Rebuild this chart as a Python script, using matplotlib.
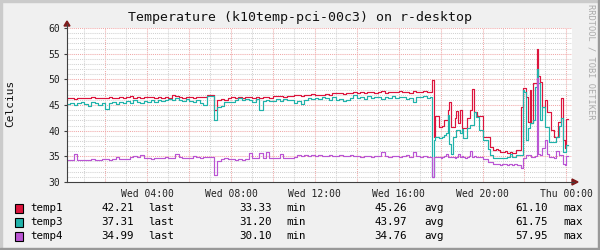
import matplotlib
matplotlib.use("Agg")
import matplotlib.pyplot as plt
import numpy as np
from matplotlib.lines import Line2D
from matplotlib.patches import Rectangle, Polygon

# ---------------- data ----------------
# 10-minute samples from Wed 00:00 to 17:30 (hours)
temp1_day = [
    46.0, 46.3, 46.3, 46.2, 46.4, 46.3,
    46.4, 46.3, 46.5, 46.3, 46.4, 46.4,
    46.3, 46.5, 46.4, 46.3, 46.6, 46.4,
    46.5, 46.8, 46.4, 46.5, 46.4, 46.6,
    46.6, 46.5, 46.3, 46.6, 46.4, 46.5,
    46.4, 46.9, 46.8, 46.5, 46.4, 46.6,
    46.5, 46.4, 46.6, 46.5, 46.6, 46.9,
    47.0, 44.1, 46.0, 46.1, 46.0, 46.3,
    46.5, 46.4, 46.6, 46.3, 46.5, 46.6,
    46.4, 46.5, 46.3, 46.6, 46.5, 46.4,
    46.8, 46.7, 46.8, 46.6, 46.8, 46.7,
    46.9, 47.0, 46.8, 47.0, 46.9, 47.1,
    47.0, 46.9, 47.0, 47.2, 47.0, 47.3,
    47.3, 47.4, 47.2, 47.4, 47.3, 47.5,
    47.4, 47.5, 47.3, 47.6, 47.5, 47.4,
    47.5, 47.7, 47.4, 47.6, 47.5, 47.6,
    47.7, 47.5, 47.6, 47.4, 47.7, 47.5,
    47.6, 47.8, 47.5,
]
temp3_day = [
    44.3, 45.2, 45.4, 45.0, 45.3, 45.6,
    45.2, 44.9, 45.5, 45.3, 45.0, 45.4,
    44.2, 45.3, 45.6, 45.1, 45.5, 45.3,
    45.7, 45.4, 46.0, 45.6, 45.3, 45.8,
    45.5, 45.9, 45.6, 46.0, 45.7, 45.9,
    46.2, 45.9, 46.3, 46.0, 45.8, 46.1,
    45.7, 45.5, 45.9, 45.3, 45.0, 46.8,
    46.8, 42.0, 44.7, 44.8, 45.6, 45.6,
    45.5, 46.0, 46.3, 46.0, 46.2, 46.0,
    45.6, 46.1, 44.1, 45.8, 46.0, 45.7,
    45.8, 46.1, 45.7, 46.2, 45.9, 46.0,
    45.4, 45.8, 45.2, 46.0, 46.3, 46.2,
    46.4, 46.1, 46.5, 46.3, 46.0, 46.5,
    45.9, 46.2, 45.8, 46.0, 46.4, 46.9,
    46.4, 46.6, 46.2, 46.7, 46.4, 46.6,
    46.5, 46.1, 46.6, 46.3, 46.7, 46.4,
    46.6, 46.5, 46.2, 46.4, 45.6, 46.6,
    46.5, 46.7, 46.4,
]
temp4_day = [
    34.3, 34.2, 34.2, 35.4, 34.3, 34.2,
    34.3, 34.2, 34.4, 34.3, 34.2, 34.4,
    34.4, 34.3, 34.4, 34.8, 34.5, 34.4,
    34.5, 34.9, 35.0, 34.9, 35.2, 34.6,
    34.6, 34.5, 34.7, 34.6, 34.6, 34.8,
    34.7, 34.6, 35.4, 34.8, 34.6, 34.7,
    34.7, 35.1, 34.8, 34.7, 34.8, 34.8,
    34.8, 31.4, 34.1, 34.5, 34.6, 34.5,
    34.4, 34.3, 34.4, 34.3, 34.4, 35.6,
    34.6, 34.7, 35.7, 34.6, 35.8, 34.7,
    34.6, 34.7, 35.4, 34.7, 34.6, 34.7,
    34.9, 35.2, 35.0, 35.3, 35.0, 35.2,
    35.0, 35.2, 35.1, 35.0, 35.3, 35.1,
    35.0, 35.2, 35.0, 35.1, 35.3, 35.0,
    35.0, 34.9, 35.1, 35.0, 34.8, 35.0,
    35.1, 35.8, 35.0, 34.9, 35.1, 35.0,
    34.9, 35.0, 35.2, 34.9, 35.8, 35.0,
    34.9, 35.1, 34.9,
]
# 5-minute samples from Wed 17:30 to Thu 00:05
temp1_late = [
    47.6, 49.9, 38.8, 42.9, 42.9, 40.8, 40.8, 41.0, 42.1, 42.1, 44.0, 45.6,
    40.7, 40.7, 42.4, 43.8, 41.5, 44.0,
    40.5, 40.5, 40.5, 42.4, 42.4, 44.0, 48.1, 43.7, 43.7, 42.9, 42.9, 42.9,
    38.8, 38.8, 38.8, 38.8, 36.9, 36.9, 36.2, 36.2, 36.4, 36.2, 35.9, 35.9,
    35.9, 36.0, 35.7, 35.7, 35.9, 35.7, 35.7, 36.2, 36.2, 36.2, 44.7, 48.3,
    48.3, 46.6, 41.7, 47.9, 41.5, 49.2, 49.2, 55.9, 50.6, 49.5, 44.7, 44.7,
    46.0, 43.7, 43.7, 40.1, 40.1, 38.8, 38.8, 41.6, 41.6, 46.3, 38.1, 36.6,
    42.2,
]
temp3_late = [
    46.5, 31.0, 38.1, 38.8, 38.8, 38.5, 38.5, 38.8, 39.2, 39.5, 43.0, 37.5,
    35.5, 38.8, 38.8, 40.1, 40.1, 39.5,
    40.3, 38.5, 38.5, 40.6, 40.6, 41.1, 41.1, 43.7, 42.7, 42.7, 40.1, 40.1,
    38.1, 38.1, 38.1, 36.5, 35.2, 35.2, 34.6, 34.6, 34.6, 34.7, 34.6, 34.6,
    34.6, 34.6, 34.9, 34.9, 35.5, 34.9, 34.9, 35.2, 35.2, 35.2, 35.2, 47.9,
    47.6, 38.1, 40.5, 41.5, 41.5, 42.0, 48.5, 52.1, 49.2, 42.0, 44.7, 44.7,
    40.8, 40.8, 37.8, 37.8, 37.8, 37.8, 38.8, 38.8, 41.0, 42.4, 35.8, 35.8,
    37.3,
]
temp4_late = [
    34.9, 31.0, 34.9, 34.8, 34.9, 34.9, 34.7, 34.9, 35.0, 35.5, 34.9, 34.8,
    34.9, 34.9, 34.7, 34.9, 35.5, 34.9,
    35.0, 34.9, 34.7, 34.9, 35.0, 36.1, 34.9, 35.0, 34.9, 34.9, 34.9, 34.9,
    34.4, 34.4, 34.4, 33.8, 33.8, 33.8, 33.5, 33.5, 33.5, 33.5, 33.4, 33.5,
    33.5, 33.5, 33.4, 33.5, 33.5, 33.4, 33.5, 33.5, 33.4, 33.4, 32.7, 34.7,
    34.7, 35.2, 35.2, 35.2, 34.9, 34.9, 35.0, 50.3, 35.5, 35.3, 36.6, 36.6,
    38.1, 35.5, 34.9, 34.9, 34.9, 34.7, 36.1, 36.1, 35.2, 35.2, 33.6, 33.4,
    35.0,
]

series_names = ["temp1", "temp3", "temp4"]
series_colors = ["#DC143C", "#20B2AA", "#BA55D3"]
last_vals = ["42.21", "37.31", "34.99"]
min_vals = ["33.33", "31.20", "30.10"]
avg_vals = ["45.26", "43.97", "34.76"]
max_vals = ["61.10", "61.75", "57.95"]

x_tick_hours = [4, 8, 12, 16, 20, 24]
x_tick_labels = ["Wed 04:00", "Wed 08:00", "Wed 12:00", "Wed 16:00", "Wed 20:00", "Thu 00:00"]
y_ticks = [30, 35, 40, 45, 50, 55, 60]

title = "Temperature (k10temp-pci-00c3) on r-desktop"

# ---------------- figure ----------------
plt.rcParams["font.family"] = ["DejaVu Sans Mono"]
plt.rcParams["lines.scale_dashes"] = False

W, H = 600, 250
BG = "#F0F0F0"
fig = plt.figure(figsize=(W / 100, H / 100), dpi=100, facecolor=BG)


def fx(x):
    return x / W


def fy(y):
    return 1 - y / H


L, R, T, B = 67, 572, 28, 182
ax = fig.add_axes([fx(L), fy(B), (R - L) / W, (B - T) / H])
ax.set_facecolor("white")
ax.set_xlim(0.17, 24.27)
ax.set_ylim(30, 60)
for s in ax.spines.values():
    s.set_visible(False)

# grid
GRAY = "#D2D2D2"
PINK = "#F0A8A8"
dot = (0, (0.75, 0.75))
for h in range(1, 25):
    ax.axvline(h, color=PINK if h % 2 == 0 else GRAY, lw=0.75, ls=dot, zorder=1)
for v in range(31, 61):
    ax.axhline(v, color=PINK if v % 5 == 0 else GRAY, lw=0.75, ls=dot, zorder=1)

# data
t_day = np.arange(len(temp1_day)) / 6.0
t_late = 17.5 + np.arange(len(temp1_late)) / 12.0
t_all = np.concatenate([t_day, t_late])
t_edges = np.append(t_all, t_all[-1] + 1 / 12.0)
for day, late, col in [(temp1_day, temp1_late, series_colors[0]),
                       (temp3_day, temp3_late, series_colors[1]),
                       (temp4_day, temp4_late, series_colors[2])]:
    y = np.concatenate([day, late])
    y = np.append(y, y[-1])
    ax.plot(t_edges, y, drawstyle="steps-post", color=col, lw=0.85, zorder=3)

# ticks
ax.set_xticks(x_tick_hours)
ax.set_xticklabels(x_tick_labels, fontsize=7, color="#222222")
ax.set_yticks(y_ticks)
ax.set_yticklabels([str(v) for v in y_ticks], fontsize=7, color="#222222")
ax.tick_params(axis="x", length=0, pad=5)
ax.tick_params(axis="y", length=2, width=0.8, color="#404040", pad=3)

# axes lines with arrows
AX_COL = "#404040"
ARR = "#7F1A1A"
fig.add_artist(Line2D([fx(L), fx(L)], [fy(B), fy(24)], color=AX_COL, lw=0.8))
fig.add_artist(Line2D([fx(L), fx(574)], [fy(B), fy(B)], color=AX_COL, lw=0.8))
fig.add_artist(Polygon([[fx(L - 3), fy(26)], [fx(L + 3), fy(26)], [fx(L), fy(21)]],
                       closed=True, color=ARR, transform=fig.transFigure))
fig.add_artist(Polygon([[fx(572), fy(B - 3)], [fx(572), fy(B + 3)], [fx(578), fy(B)]],
                       closed=True, color=ARR, transform=fig.transFigure))

# texts
fig.text(0.5, fy(18), title, ha="center", va="center", fontsize=9.5, color="#111111")
fig.text(fx(10), fy(103), "Celcius", rotation=90, ha="center", va="center",
         fontsize=8, color="#111111")
fig.text(fx(591), fy(4), "RRDTOOL / TOBI OETIKER", rotation=270, ha="center",
         va="top", fontsize=6.2, color="#AAAAAA")

# legend
rows_y = [208, 222, 236]
LF = 7.8
for i in range(3):
    yy = fy(rows_y[i])
    fig.add_artist(Rectangle((fx(15), fy(rows_y[i] + 4.5)), 8 / W, 9 / H,
                             facecolor=series_colors[i], edgecolor="black", lw=0.8,
                             transform=fig.transFigure))
    fig.text(fx(30), yy, series_names[i], ha="left", va="center", fontsize=LF)
    fig.text(fx(134), yy, last_vals[i], ha="right", va="center", fontsize=LF)
    fig.text(fx(148), yy, "last", ha="left", va="center", fontsize=LF)
    fig.text(fx(272), yy, min_vals[i], ha="right", va="center", fontsize=LF)
    fig.text(fx(286), yy, "min", ha="left", va="center", fontsize=LF)
    fig.text(fx(407), yy, avg_vals[i], ha="right", va="center", fontsize=LF)
    fig.text(fx(424), yy, "avg", ha="left", va="center", fontsize=LF)
    fig.text(fx(548), yy, max_vals[i], ha="right", va="center", fontsize=LF)
    fig.text(fx(563), yy, "max", ha="left", va="center", fontsize=LF)

# frame shading
fig.add_artist(Rectangle((0, fy(2)), 1, 2 / H, color="#CBCBCB", transform=fig.transFigure))
fig.add_artist(Rectangle((0, 0), 2 / W, 1, color="#CBCBCB", transform=fig.transFigure))
fig.add_artist(Rectangle((0, 0), 1, 2 / H, color="#999999", transform=fig.transFigure))
fig.add_artist(Rectangle((fx(598), 0), 2 / W, 1, color="#999999", transform=fig.transFigure))

fig.savefig("out.png", dpi=100, facecolor=BG)
